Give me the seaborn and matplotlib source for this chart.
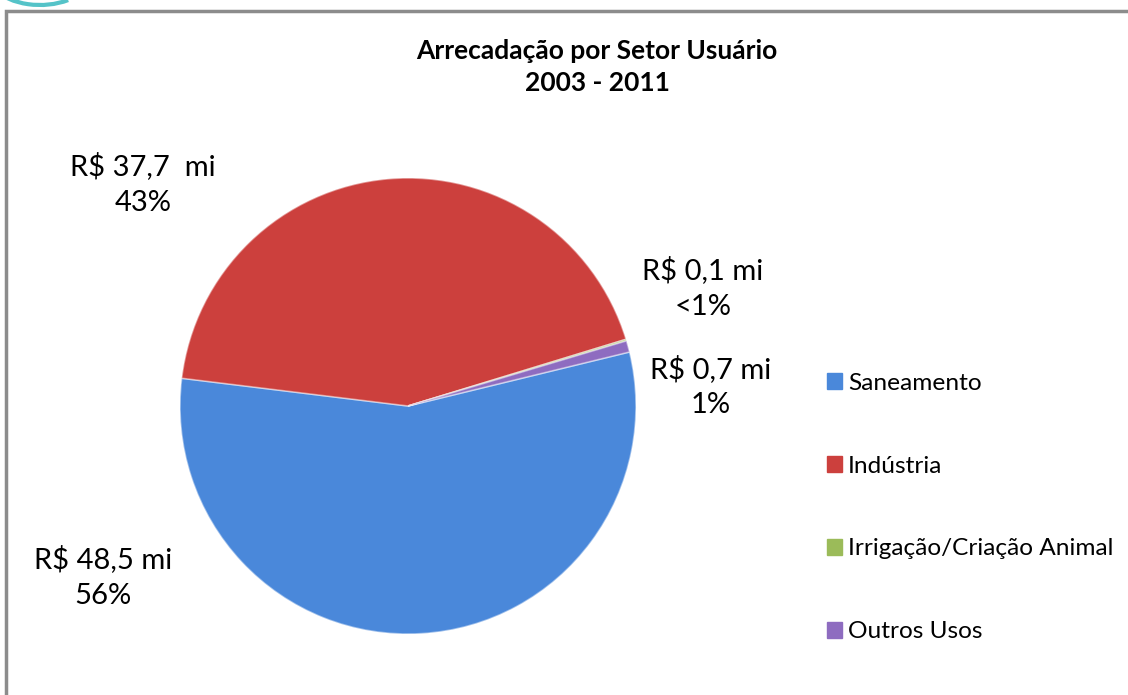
import matplotlib
matplotlib.use("Agg")
import matplotlib.pyplot as plt
import seaborn as sns
from matplotlib.patches import Rectangle, Patch, Arc

sns.set_theme(style="white")
plt.rcParams['font.family'] = ['Lato', 'DejaVu Sans']
plt.rcParams['text.color'] = 'black'

# ---- data ----
setores = ["Saneamento", "Indústria", "Irrigação/Criação Animal", "Outros Usos"]
valores = [48.5, 37.7, 0.1, 0.7]
rotulos = ["R$ 48,5 mi\n56%", "R$ 37,7  mi\n43%", "R$ 0,1 mi\n<1%", "R$ 0,7 mi\n1%"]
cores = ["#4A88DA", "#CC403D", "#9BBB59", "#8E6CC0"]
titulo = "Arrecadação por Setor Usuário\n2003 - 2011"

W, H = 1128, 695
fig = plt.figure(figsize=(W / 100, H / 100), dpi=100)
fig.patch.set_facecolor("white")

# pie axes: center (408,406) px, radius 228 px
cx, cy, r = 408, 406, 228
ax = fig.add_axes([(cx - r) / W, 1 - (cy + r) / H, 2 * r / W, 2 * r / H])
wedges, _ = ax.pie(valores, colors=cores, startangle=13.7, counterclock=False,
                   radius=1.0, wedgeprops=dict(edgecolor=(1, 1, 1, 0.45), linewidth=1.2))
ax.set_xlim(-1, 1)
ax.set_ylim(-1, 1)
ax.set_aspect("equal")
ax.axis("off")

# data labels (positions in pie-radius units)
pos = [(-1.338, -0.75), (-1.162, 0.974), (1.294, 0.518), (1.329, 0.085)]
for (x, y), t in zip(pos, rotulos):
    ax.text(x, y, t, ha="center", va="center", fontsize=21, color="black",
            linespacing=1.45, clip_on=False)

# title
fig.text(597 / W, 1 - 67 / H, titulo, ha="center", va="center", fontsize=19,
         fontweight="bold", linespacing=1.4, color="black")

# legend
handles = [Patch(facecolor=c, edgecolor=c) for c in cores]
fig.legend(handles, setores, loc="center left", bbox_to_anchor=(817 / W, 1 - 507.5 / H),
           frameon=False, fontsize=17.6, handlelength=0.62, handleheight=0.62,
           handletextpad=0.25, labelspacing=2.53, borderaxespad=0)

# outer border (extends beyond right/bottom edges)
fig.add_artist(Rectangle((6 / W, -0.05), 1.2, 1 - 11 / H + 0.05, transform=fig.transFigure,
                         fill=False, edgecolor="#8C8C8C", linewidth=2.5))
# decorative arc top-left
fig.add_artist(Arc((40 / W, 1 + 30 / H), 110 / W, 70 / H, theta1=215, theta2=300,
                   transform=fig.transFigure, color="#55C3C8", linewidth=3))

fig.savefig("out.png", dpi=100)
